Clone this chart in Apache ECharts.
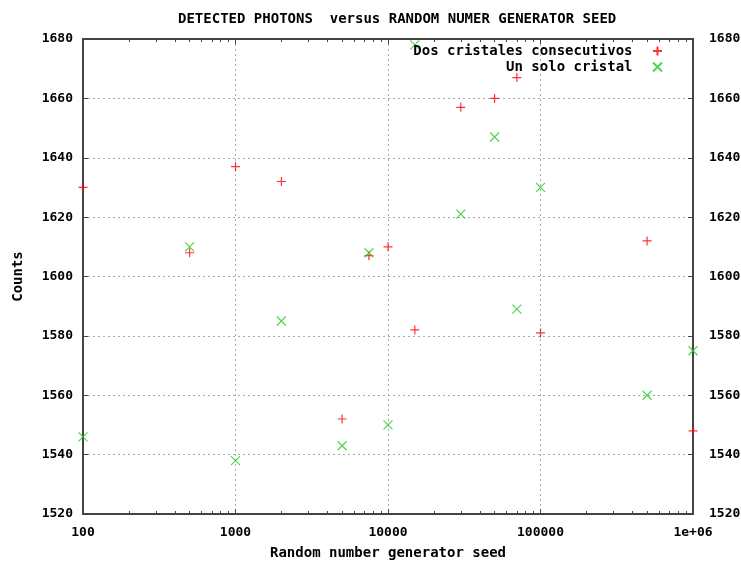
<!DOCTYPE html>
<html>
<head>
<meta charset="utf-8">
<script src="https://cdn.jsdelivr.net/npm/echarts@6/dist/echarts.min.js"></script>
<style>
  html, body { margin: 0; padding: 0; background: #fff; }
  #chart { width: 741px; height: 562px; }
</style>
</head>
<body>
<div id="chart"></div>
<script>
// semillas del generador
const seeds = [100, 500, 1000, 2000, 5000, 7500, 10000, 15000, 30000, 50000, 70000, 100000, 500000, 1000000]
// cuentas, dos cristales consecutivos
const dosCristales = [1630, 1608, 1637, 1632, 1552, 1607, 1610, 1582, 1657, 1660, 1667, 1581, 1612, 1548]
// cuentas, un solo cristal
const unCristal = [1546, 1610, 1538, 1585, 1543, 1608, 1550, 1678, 1621, 1647, 1589, 1630, 1560, 1575]
// marcas del eje log (en log10, para los ejes auxiliares)
const minorTicks = []
;[100, 1000, 10000, 100000].forEach(d => {
  for (let k = 2; k <= 9; k++) minorTicks.push(Math.log10(k * d))
})
const majorTicks = [2, 3, 4, 5, 6]

const FONT = 'DejaVu Sans Mono'
const plusPath = 'path://M0,5L10,5M5,0L5,10'
const crossPath = 'path://M0,0L10,10M10,0L0,10'

const chart = echarts.init(document.getElementById('chart'))

// ejes auxiliares solo para las marcas
const tickAxis = (position, values, len, showLine) => ({
  type: 'value',
  min: 2,
  max: 6,
  position: position,
  gridIndex: 0,
  splitLine: { show: false },
  axisLabel: { show: false },
  axisLine: { show: showLine, onZero: false, lineStyle: { color: '#444', width: 2 } },
  axisTick: { show: true, inside: true, length: len, customValues: values, lineStyle: { color: '#444' } },
})

const option = {
  animation: false,
  title: {
    text: 'DETECTED PHOTONS  versus RANDOM NUMER GENERATOR SEED',
    left: 173,
    top: 7,
    textStyle: { fontFamily: FONT, fontSize: 14, fontWeight: 'bold', color: '#000' },
  },
  grid: { left: 83, right: 48, top: 39, bottom: 48, outerBoundsMode: 'none', containLabel: false },
  legend: [
    {
      data: ['Dos cristales consecutivos'],
      right: 78, top: 44, padding: 0,
      orient: 'vertical', align: 'right',
      itemWidth: 40, itemHeight: 9,
      selectedMode: false,
      textStyle: { fontFamily: FONT, fontSize: 14, fontWeight: 'bold', color: '#000' },
    },
    {
      data: ['Un solo cristal'],
      right: 78, top: 60, padding: 0,
      orient: 'vertical', align: 'right',
      itemWidth: 40, itemHeight: 9,
      selectedMode: false,
      textStyle: { fontFamily: FONT, fontSize: 14, fontWeight: 'bold', color: '#000' },
    },
  ],
  xAxis: [
    {
      type: 'log',
      logBase: 10,
      min: 100,
      max: 1000000,
      position: 'bottom',
      name: 'Random number generator seed',
      nameLocation: 'middle',
      nameGap: 32,
      nameTextStyle: { fontFamily: FONT, fontSize: 14, fontWeight: 'bold', color: '#000' },
      axisLine: { show: true, lineStyle: { color: '#444', width: 2 } },
      axisTick: { show: true, inside: true, length: 5, lineStyle: { color: '#444' } },
      axisLabel: {
        fontFamily: FONT, fontSize: 13, fontWeight: 'bold', color: '#000', margin: 12,
        formatter: v => (v >= 1000000 ? '1e+06' : String(Math.round(v))),
      },
      splitLine: { show: true, lineStyle: { color: '#aaa', type: [2, 3] } },
    },
    tickAxis('bottom', minorTicks, 3, false),
    tickAxis('top', minorTicks, 3, true),
    tickAxis('top', majorTicks, 5, false),
  ],
  yAxis: [
    {
      type: 'value',
      min: 1520,
      max: 1680,
      interval: 20,
      position: 'left',
      name: 'Counts',
      nameLocation: 'middle',
      nameGap: 58,
      nameTextStyle: { fontFamily: FONT, fontSize: 14, fontWeight: 'bold', color: '#000' },
      axisLine: { show: true, lineStyle: { color: '#444', width: 2 } },
      axisTick: { show: true, inside: true, length: 5, lineStyle: { color: '#444' } },
      axisLabel: { fontFamily: FONT, fontSize: 13, fontWeight: 'bold', color: '#000', margin: 10, formatter: v => String(v) },
      splitLine: { show: true, lineStyle: { color: '#aaa', type: [2, 3] } },
    },
    {
      type: 'value',
      min: 1520,
      max: 1680,
      interval: 20,
      position: 'right',
      axisLine: { show: true, lineStyle: { color: '#444', width: 2 } },
      axisTick: { show: true, inside: true, length: 5, lineStyle: { color: '#444' } },
      axisLabel: { fontFamily: FONT, fontSize: 13, fontWeight: 'bold', color: '#000', margin: 16, formatter: v => String(v) },
      splitLine: { show: false },
    },
  ],
  series: [
    {
      name: 'Dos cristales consecutivos',
      type: 'scatter',
      xAxisIndex: 0,
      yAxisIndex: 0,
      symbol: plusPath,
      symbolSize: 9,
      clip: false,
      itemStyle: { color: 'rgba(0,0,0,0)', borderColor: '#ff0000', borderWidth: 1.2 },
      emphasis: { disabled: true },
      data: seeds.map((s, i) => [s, dosCristales[i]]),
    },
    {
      name: 'Un solo cristal',
      type: 'scatter',
      xAxisIndex: 0,
      yAxisIndex: 0,
      symbol: crossPath,
      symbolSize: 9,
      clip: false,
      itemStyle: { color: 'rgba(0,0,0,0)', borderColor: '#22cc22', borderWidth: 1.2 },
      emphasis: { disabled: true },
      data: seeds.map((s, i) => [s, unCristal[i]]),
    },
  ],
}

chart.setOption(option)
window.addEventListener('resize', () => chart.resize())
</script>
</body>
</html>
